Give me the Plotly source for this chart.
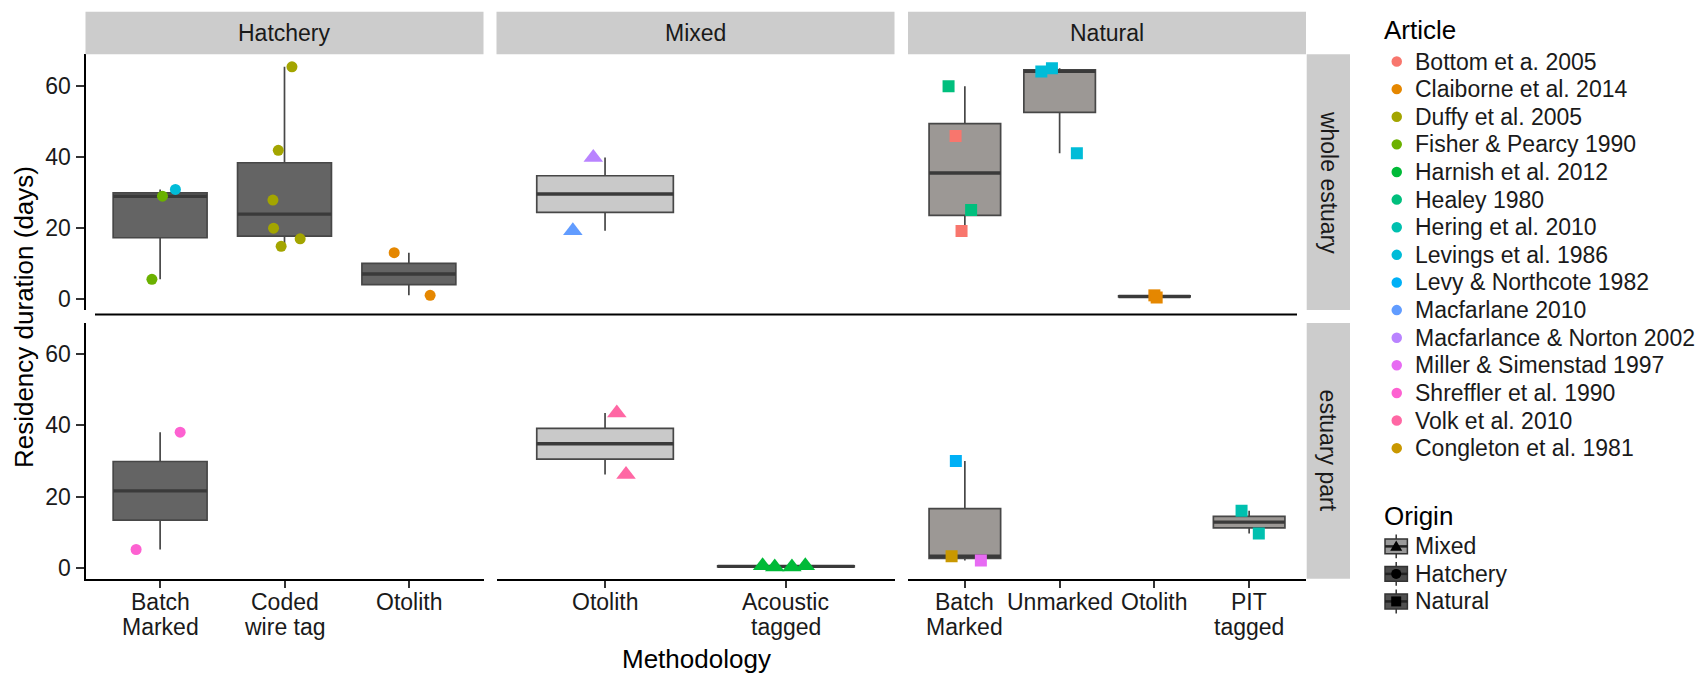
import numpy as np
import plotly.graph_objects as go

W, H = 1701, 676
FONT = "Liberation Sans, Arial, Helvetica, sans-serif"
SMALL = 23

# ---------------- data ----------------
origins = ["Hatchery", "Mixed", "Natural"]
areas = ["whole estuary", "estuary part"]
hatchery_methods = ["Batch Marked", "Coded wire tag", "Otolith"]
mixed_methods = ["Otolith", "Acoustic tagged"]
natural_methods = ["Batch Marked", "Unmarked", "Otolith", "PIT tagged"]
hatchery_ticks = ["Batch<br>Marked", "Coded<br>wire tag", "Otolith"]
mixed_ticks = ["Otolith", "Acoustic<br>tagged"]
natural_ticks = ["Batch<br>Marked", "Unmarked", "Otolith", "PIT<br>tagged"]
y_ticks = [0, 20, 40, 60]

articles = ["Bottom et a. 2005", "Claiborne et al. 2014", "Duffy et al. 2005",
            "Fisher & Pearcy 1990", "Harnish et al. 2012", "Healey 1980",
            "Hering et al. 2010", "Levings et al. 1986", "Levy & Northcote 1982",
            "Macfarlane 2010", "Macfarlance & Norton 2002", "Miller & Simenstad 1997",
            "Shreffler et al. 1990", "Volk et al. 2010", "Congleton et al. 1981"]
article_colors = ["#F8766D", "#E58700", "#A3A500", "#6BB100", "#00BA38", "#00BF7D",
                  "#00C0AF", "#00BCD8", "#00B0F6", "#619CFF", "#B983FF", "#E76BF3",
                  "#FD61D1", "#FF67A4", "#C99800"]

pt_origin = (["Hatchery"] * 3 + ["Hatchery"] * 6 + ["Hatchery"] * 2 + ["Mixed"] * 2 +
             ["Natural"] * 4 + ["Natural"] * 3 + ["Natural"] * 2 +
             ["Hatchery"] * 2 + ["Mixed"] * 2 + ["Mixed"] * 4 + ["Natural"] * 3 + ["Natural"] * 2)
pt_area = (["whole estuary"] * 22 + ["estuary part"] * 13)
pt_method = (["Batch Marked"] * 3 + ["Coded wire tag"] * 6 + ["Otolith"] * 2 + ["Otolith"] * 2 +
             ["Batch Marked"] * 4 + ["Unmarked"] * 3 + ["Otolith"] * 2 +
             ["Batch Marked"] * 2 + ["Otolith"] * 2 + ["Acoustic tagged"] * 4 +
             ["Batch Marked"] * 3 + ["PIT tagged"] * 2)
pt_article = (["Fisher & Pearcy 1990", "Fisher & Pearcy 1990", "Levings et al. 1986"] +
              ["Duffy et al. 2005"] * 6 + ["Claiborne et al. 2014"] * 2 +
              ["Macfarlance & Norton 2002", "Macfarlane 2010"] +
              ["Healey 1980", "Bottom et a. 2005", "Healey 1980", "Bottom et a. 2005"] +
              ["Levings et al. 1986"] * 3 + ["Claiborne et al. 2014"] * 2 +
              ["Shreffler et al. 1990"] * 2 + ["Volk et al. 2010"] * 2 +
              ["Harnish et al. 2012"] * 4 +
              ["Levy & Northcote 1982", "Congleton et al. 1981", "Miller & Simenstad 1997"] +
              ["Hering et al. 2010"] * 2)
pt_value = [5.5, 28.9, 30.8,
            65.3, 41.8, 27.8, 19.9, 16.9, 14.8,
            13.0, 1.0,
            39.8, 19.2,
            59.8, 45.8, 25.0, 19.1,
            64.0, 64.9, 41.0,
            1.0, 0.4,
            38.1, 5.1,
            43.5, 26.2,
            0.5, 0.2, 0.2, 0.5,
            30.0, 3.2, 2.0,
            16.0, 9.6]
pt_jitter = [-0.066, 0.019, 0.123,
             0.06, -0.05, -0.093, -0.088, 0.126, -0.027,
             -0.118, 0.171,
             -0.065, -0.178,
             -0.172, -0.098, 0.066, -0.035,
             -0.193, -0.081, 0.182,
             0.0, 0.024,
             0.161, -0.193,
             0.065, 0.116,
             -0.129, -0.062, 0.033, 0.107,
             -0.095, -0.14, 0.169,
             -0.08, 0.102]

# ---------------- styles ----------------
methods_by_origin = {"Hatchery": hatchery_methods, "Mixed": mixed_methods, "Natural": natural_methods}
ticks_by_origin = {"Hatchery": hatchery_ticks, "Mixed": mixed_ticks, "Natural": natural_ticks}
box_fill = {"Hatchery": "#646464", "Mixed": "#C9C9C9", "Natural": "#9C9895"}
symbol_by_origin = {"Hatchery": "circle", "Mixed": "triangle-up", "Natural": "square"}
size_by_origin = {"Hatchery": 11, "Mixed": 17, "Natural": 12}
color_of = dict(zip(articles, article_colors))

panel_x0 = [85.5, 496.5, 908.0]
panel_w = 398.0
panel_y0 = [54.5, 324.0]
panel_h = 256.5
y_range = [-3.14, 68.8]
BOX_W = 0.755
TICK_LINE_Y = [603.5, 628.5]


def px(x):
    return x / W


def py(y):
    return 1 - y / H


fig = go.Figure()
layout = {}
annotations = []

for r, area in enumerate(areas):
    for c, origin in enumerate(origins):
        k = r * 3 + c + 1
        xa = "x" if k == 1 else f"x{k}"
        ya = "y" if k == 1 else f"y{k}"
        mlist = methods_by_origin[origin]
        # boxes (stats computed from the observations, R type-7 quantiles)
        for i, m in enumerate(mlist):
            vals = np.array([v for v, o, a, mm in zip(pt_value, pt_origin, pt_area, pt_method)
                             if o == origin and a == area and mm == m])
            if len(vals) == 0:
                continue
            q1, med, q3 = np.percentile(vals, [25, 50, 75])
            iqr = q3 - q1
            lo = vals[vals >= q1 - 1.5 * iqr].min()
            hi = vals[vals <= q3 + 1.5 * iqr].max()
            fig.add_trace(go.Box(x=[i], q1=[q1], median=[med], q3=[q3],
                                 lowerfence=[lo], upperfence=[hi], width=BOX_W,
                                 fillcolor=box_fill[origin],
                                 line=dict(color="#474747", width=1.7),
                                 whiskerwidth=0, boxpoints=False, showlegend=False,
                                 xaxis=xa, yaxis=ya))
            fig.add_trace(go.Scatter(x=[i - BOX_W / 2, i + BOX_W / 2], y=[med, med], mode="lines",
                                     line=dict(color="#3A3A3A", width=3.4), showlegend=False,
                                     hoverinfo="skip", xaxis=xa, yaxis=ya))
        # jittered points
        xs, ys, cols = [], [], []
        for v, o, a, mm, art, j in zip(pt_value, pt_origin, pt_area, pt_method, pt_article, pt_jitter):
            if o == origin and a == area:
                xs.append(mlist.index(mm) + j)
                ys.append(v)
                cols.append(color_of[art])
        if xs:
            fig.add_trace(go.Scatter(x=xs, y=ys, mode="markers",
                                     marker=dict(color=cols, symbol=symbol_by_origin[origin],
                                                 size=size_by_origin[origin], line=dict(width=0)),
                                     showlegend=False, xaxis=xa, yaxis=ya))
        bottom = (r == 1)
        left = (c == 0)
        layout["xaxis" if k == 1 else f"xaxis{k}"] = dict(
            domain=[px(panel_x0[c]), px(panel_x0[c] + panel_w)],
            anchor=ya, range=[-0.6, len(mlist) - 0.4],
            tickvals=list(range(len(mlist))), ticktext=ticks_by_origin[origin],
            showline=bottom, linecolor="#000000", linewidth=2,
            ticks="outside" if bottom else "", ticklen=7, tickwidth=1.6, tickcolor="#333333",
            showticklabels=False,
            showgrid=False, zeroline=False, fixedrange=True)
        layout["yaxis" if k == 1 else f"yaxis{k}"] = dict(
            domain=[py(panel_y0[r] + panel_h), py(panel_y0[r])],
            anchor=xa, range=y_range, tickvals=y_ticks,
            showline=left, linecolor="#000000", linewidth=2,
            ticks="outside" if left else "", ticklen=8, tickwidth=1.6, tickcolor="#333333",
            showticklabels=left, tickfont=dict(size=SMALL, color="#1A1A1A", family=FONT),
            showgrid=False, zeroline=False, fixedrange=True)
        # category labels of the bottom row, placed on the x scale, one text line each
        if bottom:
            for i, lab in enumerate(ticks_by_origin[origin]):
                for j, line in enumerate(lab.split("<br>")):
                    annotations.append(dict(text=line, xref=xa, yref="paper", x=i,
                                            y=py(TICK_LINE_Y[j]), showarrow=False,
                                            xanchor="center", yanchor="middle",
                                            font=dict(size=SMALL, color="#1A1A1A", family=FONT)))

shapes = []

# facet strips
for c, origin in enumerate(origins):
    shapes.append(dict(type="rect", xref="paper", yref="paper",
                       x0=px(panel_x0[c]), x1=px(panel_x0[c] + panel_w), y0=py(54.3), y1=py(11.7),
                       fillcolor="#CCCCCC", line=dict(width=0)))
    annotations.append(dict(text=origin, xref="paper", yref="paper",
                            x=px(panel_x0[c] + panel_w / 2), y=py(33), showarrow=False,
                            xanchor="center", yanchor="middle",
                            font=dict(size=SMALL, color="#1A1A1A", family=FONT)))
for r, area in enumerate(areas):
    shapes.append(dict(type="rect", xref="paper", yref="paper",
                       x0=px(1306.7), x1=px(1350), y0=py(panel_y0[r] + panel_h), y1=py(panel_y0[r]),
                       fillcolor="#CCCCCC", line=dict(width=0)))
    annotations.append(dict(text=area, xref="paper", yref="paper", textangle=90,
                            x=px(1328.3), y=py(panel_y0[r] + panel_h / 2), showarrow=False,
                            xanchor="center", yanchor="middle",
                            font=dict(size=SMALL, color="#1A1A1A", family=FONT)))

# stray axis line between the rows (as in the reference)
shapes.append(dict(type="line", xref="paper", yref="paper", x0=px(95), x1=px(1297),
                   y0=py(315.5), y1=py(315.5), line=dict(color="#000000", width=2)))

# axis titles
annotations.append(dict(text="Residency duration (days)", xref="paper", yref="paper", textangle=-90,
                        x=px(24), y=py(318), showarrow=False, xanchor="center", yanchor="middle",
                        font=dict(size=26, color="#000000", family=FONT)))
annotations.append(dict(text="Methodology", xref="paper", yref="paper",
                        x=px(696), y=py(661), showarrow=False, xanchor="center", yanchor="middle",
                        font=dict(size=26, color="#000000", family=FONT)))

# legend: Article
annotations.append(dict(text="Article", xref="paper", yref="paper", x=px(1382), y=py(30),
                        showarrow=False, xanchor="left", yanchor="middle",
                        font=dict(size=26, color="#000000", family=FONT)))
for i, (art, col) in enumerate(zip(articles, article_colors)):
    yc = 61.7 + 27.7 * i
    shapes.append(dict(type="circle", xref="paper", yref="paper",
                       x0=px(1391.5), x1=px(1402), y0=py(yc + 5.25), y1=py(yc - 5.25),
                       fillcolor=col, line=dict(width=0)))
    annotations.append(dict(text=art, xref="paper", yref="paper", x=px(1413), y=py(yc),
                            showarrow=False, xanchor="left", yanchor="middle",
                            font=dict(size=SMALL, color="#1A1A1A", family=FONT)))

# legend: Origin
annotations.append(dict(text="Origin", xref="paper", yref="paper", x=px(1382), y=py(518),
                        showarrow=False, xanchor="left", yanchor="middle",
                        font=dict(size=26, color="#000000", family=FONT)))
origin_legend = ["Mixed", "Hatchery", "Natural"]
origin_key_fill = {"Mixed": "#9A9A9A", "Hatchery": "#4A4A4A", "Natural": "#505050"}
for i, o in enumerate(origin_legend):
    yc = 548 + 27.6 * i
    shapes.append(dict(type="line", xref="paper", yref="paper", x0=px(1396.2), x1=px(1396.2),
                       y0=py(yc + 12), y1=py(yc - 12), line=dict(color="#333333", width=1.5)))
    shapes.append(dict(type="rect", xref="paper", yref="paper", x0=px(1385), x1=px(1407.4),
                       y0=py(yc + 7.5), y1=py(yc - 7.5), fillcolor=origin_key_fill[o],
                       line=dict(color="#333333", width=1.5)))
    shapes.append(dict(type="line", xref="paper", yref="paper", x0=px(1385), x1=px(1407.4),
                       y0=py(yc), y1=py(yc), line=dict(color="#222222", width=2.5)))
    if o == "Mixed":
        path = (f"M {px(1390.2)} {py(yc + 4.5)} L {px(1402.2)} {py(yc + 4.5)} "
                f"L {px(1396.2)} {py(yc - 6)} Z")
        shapes.append(dict(type="path", xref="paper", yref="paper", path=path,
                           fillcolor="#000000", line=dict(width=0)))
    elif o == "Hatchery":
        shapes.append(dict(type="circle", xref="paper", yref="paper", x0=px(1391.2), x1=px(1401.2),
                           y0=py(yc + 5), y1=py(yc - 5), fillcolor="#000000", line=dict(width=0)))
    else:
        shapes.append(dict(type="rect", xref="paper", yref="paper", x0=px(1391.2), x1=px(1401.2),
                           y0=py(yc + 5), y1=py(yc - 5), fillcolor="#000000", line=dict(width=0)))
    annotations.append(dict(text=o, xref="paper", yref="paper", x=px(1413), y=py(yc),
                            showarrow=False, xanchor="left", yanchor="middle",
                            font=dict(size=SMALL, color="#1A1A1A", family=FONT)))

fig.update_layout(**layout)
fig.update_layout(width=W, height=H, margin=dict(l=0, r=0, t=0, b=0, pad=0),
                  paper_bgcolor="#FFFFFF", plot_bgcolor="#FFFFFF",
                  shapes=shapes, annotations=annotations, showlegend=False,
                  font=dict(family=FONT, size=SMALL, color="#1A1A1A"))

fig.write_html("out.html", config={"displayModeBar": False},
               post_script="document.body.style.margin='0';document.body.style.overflow='hidden';")
